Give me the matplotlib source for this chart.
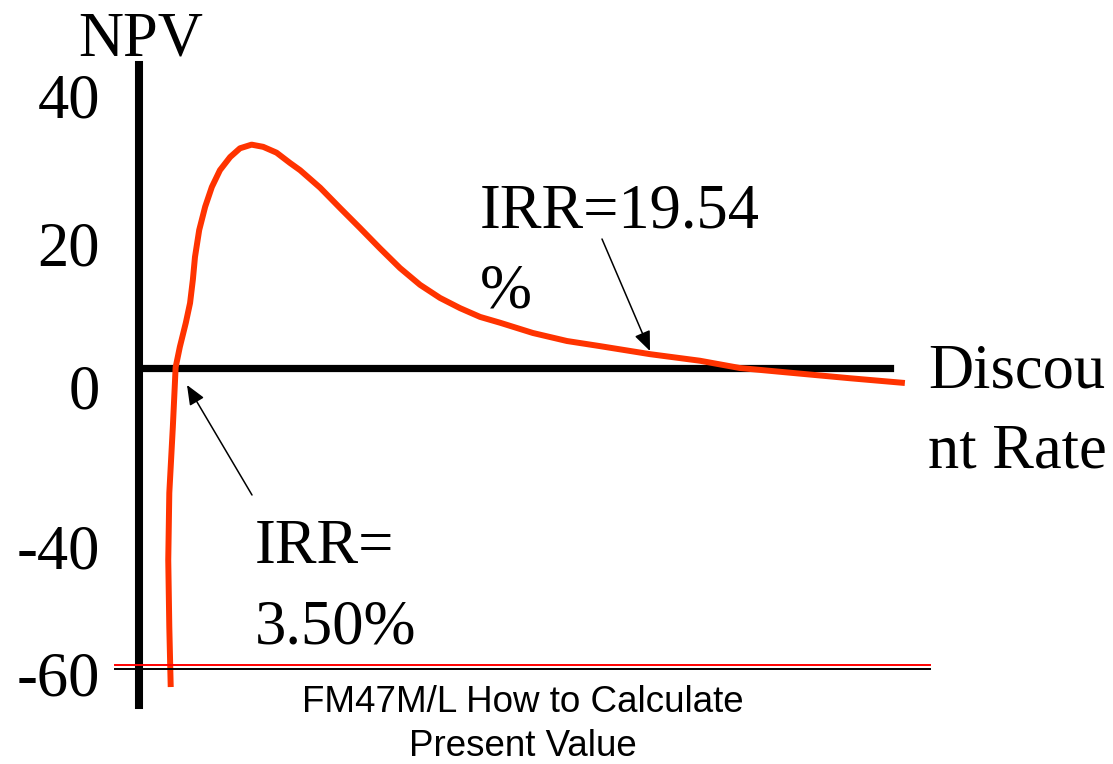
import matplotlib
matplotlib.use("Agg")
import matplotlib.pyplot as plt
from matplotlib.lines import Line2D

# NPV profile (discount rate in %, NPV)
rate = [3.35, 3.31, 3.28, 3.31, 3.41, 3.46, 3.49, 3.61, 3.78, 3.90, 3.98, 4.04,
        4.16, 4.33, 4.52, 4.75, 5.04, 5.32, 5.65, 5.98, 6.36, 6.74, 7.03,
        7.60, 8.17, 8.73, 9.30, 9.87, 10.44, 11.01, 11.58, 12.15, 12.72,
        13.65, 14.62, 15.56, 16.98, 18.40, 19.54, 20.76, 22.67, 24.23]
npv = [-43.7, -35.5, -26.3, -17.1, -8.1, -3.0, 0.1, 2.9, 6.2, 8.9, 12.1, 15.2,
       18.9, 22.1, 24.8, 27.1, 28.9, 30.1, 30.6, 30.3, 29.5, 28.1, 27.1,
       24.7, 21.9, 19.2, 16.4, 13.7, 11.4, 9.6, 8.2, 7.0, 6.2,
       4.8, 3.7, 3.0, 1.9, 1.0, 0.0, -0.55, -1.4, -2.05]

# labels on the NPV axis (the slide places them loosely)
ytick_pos = [37.3, 17.1, -2.5, -24.4, -41.9]
ytick_labels = ["40", "20", "0", "-40", "-60"]

irr_low = "IRR=\n3.50%"
irr_high = "IRR=19.54\n%"

serif = "Liberation Serif"
fs = 45

W, H = 1113, 764
fig = plt.figure(figsize=(W / 100, H / 100), dpi=100)
ax = fig.add_axes([139 / W, 1 - 705 / H, (890 - 139) / W, (705 - 65) / H])

ax.plot(rate, npv, color="#ff3300", lw=4.3, clip_on=False,
        solid_joinstyle="round", solid_capstyle="butt", zorder=3)

ax.set_xlim(2.448, 23.807)
ax.set_ylim(-46.16, 41.51)

for s in ["top", "right"]:
    ax.spines[s].set_visible(False)
ax.spines["left"].set_linewidth(5.8)
ax.spines["bottom"].set_linewidth(5.2)
ax.spines["bottom"].set_position(("data", 0))
ax.set_xticks([])
ax.set_yticks(ytick_pos)
ax.set_yticklabels(ytick_labels, family=serif, fontsize=fs)
ax.tick_params(axis="y", length=0, pad=28)

# text boxes (multi-line baselines refer to the last line)
fig.text(78 / W, 1 - 55 / H, "NPV", family=serif, fontsize=fs, va="baseline")
fig.text(480 / W, 1 - 307 / H, irr_high, family=serif, fontsize=fs,
         va="baseline", linespacing=1.5)
fig.text(928 / W, 1 - 467 / H, "Discou\nnt Rate", family=serif, fontsize=fs,
         va="baseline", linespacing=1.5)
fig.text(255 / W, 1 - 643 / H, irr_low, family=serif, fontsize=fs,
         va="baseline", linespacing=1.5)

# arrows to the two IRRs
arrow = dict(arrowstyle="-|>,head_length=0.6,head_width=0.25", color="black",
             lw=1.1, mutation_scale=20, shrinkA=0, shrinkB=0)
ax.annotate("", xy=(187 / W, 1 - 385 / H), xytext=(252 / W, 1 - 495 / H),
            xycoords="figure fraction", textcoords="figure fraction",
            arrowprops=arrow, annotation_clip=False)
ax.annotate("", xy=(650 / W, 1 - 351 / H), xytext=(602 / W, 1 - 239 / H),
            xycoords="figure fraction", textcoords="figure fraction",
            arrowprops=arrow, annotation_clip=False)

# slide footer
fig.add_artist(Line2D([115 / W, 930 / W], [1 - 665 / H, 1 - 665 / H],
                      color="red", lw=1.4))
fig.add_artist(Line2D([115 / W, 930 / W], [1 - 669 / H, 1 - 669 / H],
                      color="black", lw=1.4))
fig.text(523 / W, 1 - 756 / H, "FM47M/L How to Calculate\nPresent Value",
         family="Liberation Sans", fontsize=26.5, ha="center", va="baseline",
         multialignment="center", linespacing=1.34)

fig.savefig("out.png", dpi=100)
